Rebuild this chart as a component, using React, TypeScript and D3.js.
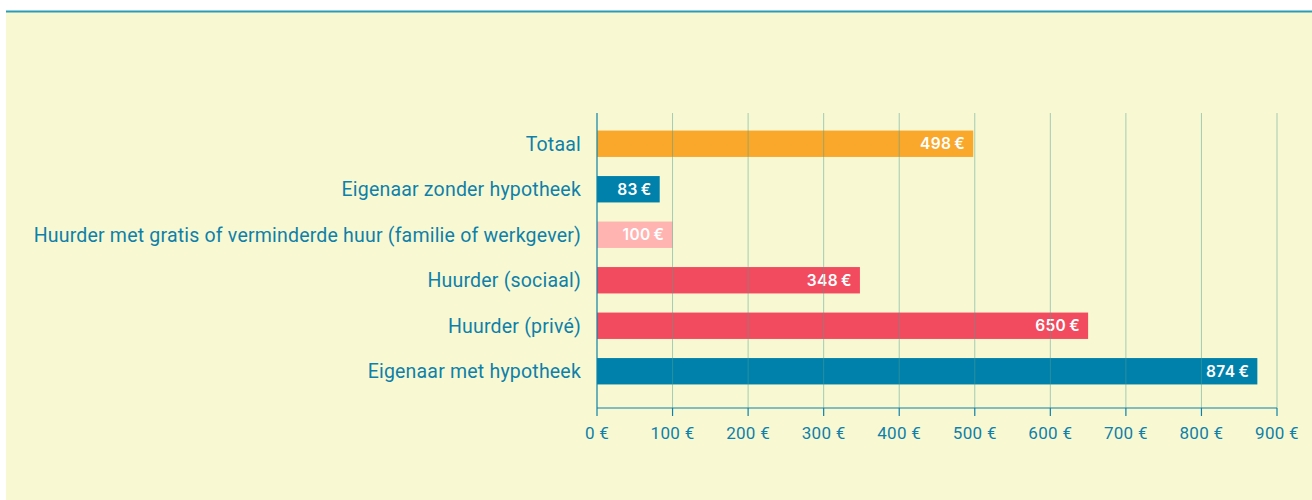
import * as d3 from "d3";

const categories = [
  "Totaal",
  "Eigenaar zonder hypotheek",
  "Huurder met gratis of verminderde huur (familie of werkgever)",
  "Huurder (sociaal)",
  "Huurder (privé)",
  "Eigenaar met hypotheek",
];
const values = [498, 83, 100, 348, 650, 874];
const colors = ["#f9a82c", "#0081ab", "#ffb4b2", "#f24b5f", "#f24b5f", "#0081ab"];
const ticks = [0, 100, 200, 300, 400, 500, 600, 700, 800, 900];

const W = 1312;
const H = 500;

export default function App() {
  const x = d3.scaleLinear().domain([0, 900]).range([597, 1277]);
  const y = d3.scaleBand().domain(categories).range([121, 394]).paddingInner(0.42).paddingOuter(0.21);
  const axisY = 408;
  const textColor = "#0e80a9";
  const fmt = (v: number) => `${v} €`;

  return (
    <svg
      width={W}
      height={H}
      style={{ position: "absolute", left: 0, top: 0 }}
      fontFamily="Roboto, sans-serif"
    >
      <rect x={0} y={0} width={W} height={H} fill="#ffffff" />
      <rect x={6} y={12} width={W - 6} height={H - 12} fill="#f8f9d3" />
      <line x1={6} x2={W} y1={11.5} y2={11.5} stroke="#2b9bb6" strokeWidth={2} />

      {categories.map((c, i) => (
        <g key={c}>
          <rect
            x={x(0)}
            y={y(c)}
            width={x(values[i]) - x(0)}
            height={y.bandwidth()}
            fill={colors[i]}
          />
          <text
            x={x(values[i]) - 8}
            y={(y(c) ?? 0) + y.bandwidth() / 2}
            dy="0.35em"
            textAnchor="end"
            fill="#ffffff"
            fontSize={15.5}
            fontWeight={600}
            letterSpacing={0.4}
            fontFamily="Inter, sans-serif"
          >
            {`${values[i]}\u2009€`}
          </text>
          <text
            x={581}
            y={(y(c) ?? 0) + y.bandwidth() / 2}
            dy="0.35em"
            textAnchor="end"
            fill={textColor}
            fontSize={19.5}
            letterSpacing={0.2}
          >
            {c}
          </text>
        </g>
      ))}

      {ticks.slice(1).map((t) => (
        <line
          key={t}
          x1={x(t)}
          x2={x(t)}
          y1={113}
          y2={axisY}
          stroke="#4f9f92"
          strokeOpacity={0.5}
          strokeWidth={1}
        />
      ))}
      <line x1={x(0)} x2={x(0)} y1={113} y2={axisY} stroke={textColor} strokeWidth={1.2} />
      <line x1={x(0)} x2={x(900)} y1={axisY} y2={axisY} stroke={textColor} strokeWidth={1.2} />
      {ticks.map((t) => (
        <g key={t}>
          <line x1={x(t)} x2={x(t)} y1={axisY} y2={axisY + 8} stroke={textColor} strokeWidth={1.2} />
          <text x={x(t)} y={axisY + 25} dy="0.35em" textAnchor="middle" fill={textColor} fontSize={17} letterSpacing={0.3}>
            {fmt(t)}
          </text>
        </g>
      ))}
    </svg>
  );
}
